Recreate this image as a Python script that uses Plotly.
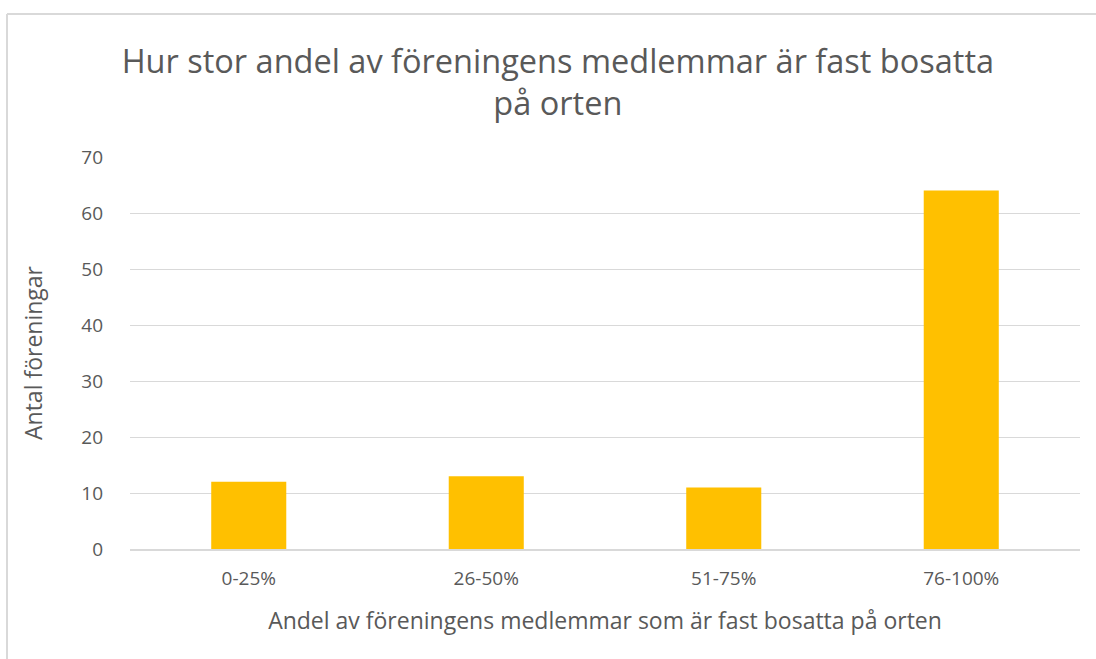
import plotly.graph_objects as go

# --- data ---
categories = ['0-25%', '26-50%', '51-75%', '76-100%']
counts = [12, 13, 11, 64]
y_ticks = [0, 10, 20, 30, 40, 50, 60, 70]

TEXT = "#595959"
GRID = "#d9d9d9"
FONT = "Open Sans, Noto Sans, sans-serif"

fig = go.Figure()
fig.add_trace(go.Bar(x=categories, y=counts, marker=dict(color="#FFC000", line=dict(width=0))))

#--- chart frame: only top and left edges show, the rest is cropped away
fx0 = (7 - 130) / 950
fy1 = (549 - 14) / 392
for x0, y0, x1, y1 in [(fx0, fy1, 1.2, fy1), (fx0, fy1, fx0, -0.5)]:
    fig.add_shape(type="line", xref="paper", yref="paper",
                  x0=x0, y0=y0, x1=x1, y1=y1,
                  line=dict(color=GRID, width=2), layer="below")

fig.update_layout(
    width=1096, height=659,
    margin=dict(l=130, r=16, t=157, b=110),
    paper_bgcolor="white", plot_bgcolor="white",
    showlegend=False, bargap=0.684,
    font=dict(family=FONT, color=TEXT, size=19),
    title=dict(text="Hur stor andel av föreningens medlemmar är fast bosatta<br>på orten",
               x=0.509, xanchor="center", y=0.889, yanchor="middle",
               font=dict(size=32.5, color=TEXT, family=FONT)),
)
fig.update_xaxes(
    showgrid=False, showline=True, linecolor=GRID, linewidth=1.5,
    tickfont=dict(size=19, color=TEXT), ticks="", ticklabelstandoff=11,
    title=dict(text="Andel av föreningens medlemmar som är fast bosatta på orten",
               font=dict(size=23, color=TEXT), standoff=23),
)
fig.update_yaxes(
    range=[0, 70], tickvals=y_ticks, showgrid=True, gridcolor=GRID, gridwidth=1,
    zeroline=False, showline=False, ticks="", ticklabelstandoff=26,
    tickfont=dict(size=19, color=TEXT),
    title=dict(text="Antal föreningar", font=dict(size=23, color=TEXT), standoff=32),
)

#--- drop the page's default body margin so the figure fills the window
fig.write_html("out.html", config={"displayModeBar": False},
               post_script="document.body.style.margin='0';")
